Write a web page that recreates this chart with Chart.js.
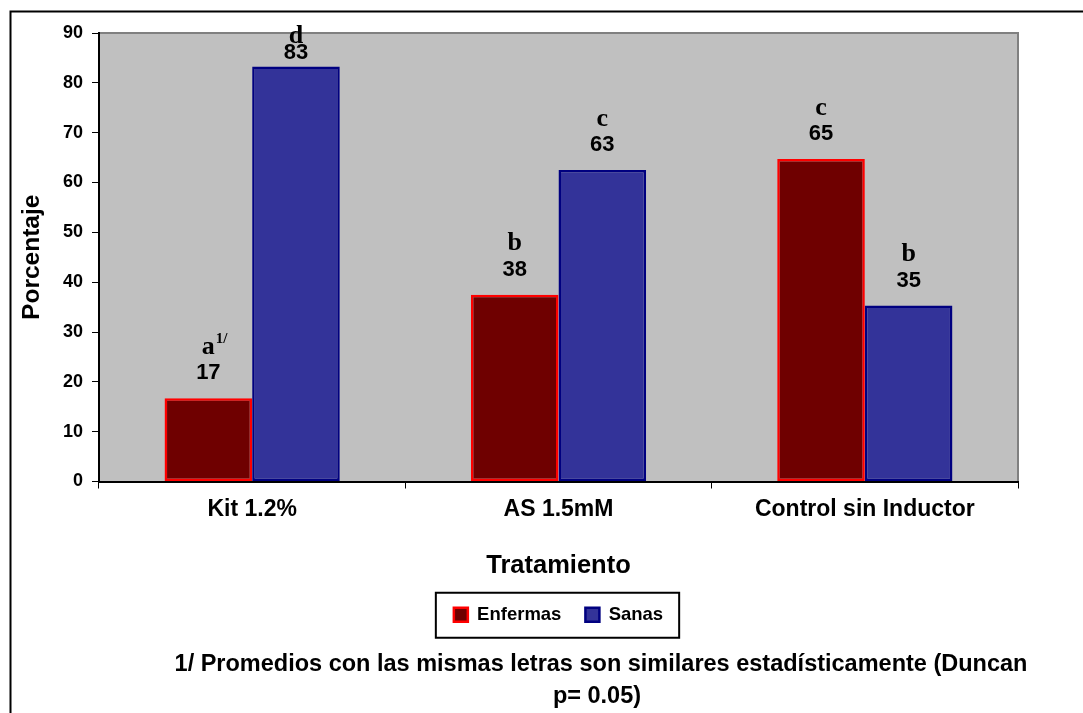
<!DOCTYPE html>
<html>
<head>
<meta charset="utf-8">
<script src="https://cdn.jsdelivr.net/npm/chart.js@4.4.0/dist/chart.umd.min.js"></script>
<style>
  body { margin: 0; background: #fff; }
  #wrap { width: 1083px; height: 713px; }
</style>
</head>
<body>
<div id="wrap"><canvas id="chart" width="1083" height="713"></canvas></div>
<script>
const categories = ["Kit 1.2%", "AS 1.5mM", "Control sin Inductor"];
const enfermas = [16.7, 37.5, 64.7];
const sanas = [83.3, 62.5, 35.3];
const enfermasLetters = ["a", "b", "c"];
const sanasLetters = ["d", "c", "b"];
const enfermasSup = ["1/", "", ""];
const sanasSup = ["", "", ""];
const yTicks = [0, 10, 20, 30, 40, 50, 60, 70, 80, 90];
const footnote = [
  "1/ Promedios con las mismas letras son similares estadísticamente (Duncan",
  "p= 0.05)"
];

const sansFont = "'Liberation Sans', Arial, sans-serif";
const serifFont = "'Liberation Serif', 'Times New Roman', serif";
Chart.defaults.font.family = sansFont;
Chart.defaults.color = "#000";

const decorPlugin = {
  id: "decor",
  beforeDraw(chart) {
    // gray plot area
    const { ctx, chartArea: a } = chart;
    ctx.save();
    ctx.fillStyle = "#c0c0c0";
    ctx.fillRect(a.left, a.top, a.right - a.left, a.bottom - a.top);
    ctx.strokeStyle = "#808080";
    ctx.lineWidth = 2;
    ctx.beginPath();
    ctx.moveTo(a.left, a.top);
    ctx.lineTo(a.right, a.top);
    ctx.lineTo(a.right, a.bottom);
    ctx.stroke();
    ctx.restore();
  },
  afterDatasetsDraw(chart) {
    const { ctx, chartArea: a } = chart;
    const letters = [enfermasLetters, sanasLetters];
    const sups = [enfermasSup, sanasSup];
    ctx.save();
    ctx.fillStyle = "#000";
    ctx.textBaseline = "middle";
    chart.data.datasets.forEach((ds, i) => {
      const meta = chart.getDatasetMeta(i);
      meta.data.forEach((bar, j) => {
        const numY = Math.max(bar.y - 25, a.top + 20);
        const letY = Math.max(numY - 26, a.top + 3);
        ctx.font = "bold 22px " + sansFont;
        ctx.textAlign = "center";
        ctx.fillText(String(Math.round(ds.data[j])), bar.x, numY);
        ctx.font = "bold 26px " + serifFont;
        ctx.fillText(letters[i][j], bar.x, letY);
        if (sups[i][j]) {
          const w = ctx.measureText(letters[i][j]).width;
          ctx.font = "bold 15px " + serifFont;
          ctx.textAlign = "left";
          ctx.fillText(sups[i][j], bar.x + w / 2 + 1, letY - 8);
        }
      });
    });
    ctx.restore();
  },
  afterDraw(chart) {
    const { ctx } = chart;
    ctx.save();
    // legend frame
    const hb = chart.legend.legendHitBoxes;
    if (hb && hb.length) {
      const last = hb[hb.length - 1];
      const left = hb[0].left - 18;
      const right = last.left + last.width + 16;
      const cy = hb[0].top + hb[0].height / 2;
      ctx.strokeStyle = "#000";
      ctx.lineWidth = 2;
      ctx.strokeRect(left, cy - 22, right - left, 45);
    }
    // footnote
    ctx.fillStyle = "#000";
    ctx.font = "bold 23.5px " + sansFont;
    ctx.textAlign = "center";
    ctx.textBaseline = "middle";
    ctx.fillText(footnote[0], 601, 665);
    ctx.fillText(footnote[1], 597, 697);
    // outer frame
    ctx.lineWidth = 2;
    ctx.strokeStyle = "#000";
    ctx.strokeRect(10.5, 11.5, 1200, 800);
    ctx.restore();
  }
};

new Chart(document.getElementById("chart"), {
  type: "bar",
  data: {
    labels: categories,
    datasets: [
      {
        label: "Enfermas",
        data: enfermas,
        backgroundColor: "#6f0000",
        borderColor: "#ff0000",
        borderWidth: 2.5,
        borderSkipped: false
      },
      {
        label: "Sanas",
        data: sanas,
        backgroundColor: "#333399",
        borderColor: "#000080",
        borderWidth: 2.5,
        borderSkipped: false
      }
    ]
  },
  options: {
    responsive: false,
    animation: false,
    layout: { padding: { left: 18, right: 65, top: 33, bottom: 79 } },
    datasets: { bar: { categoryPercentage: 0.572, barPercentage: 1 } },
    plugins: {
      tooltip: { enabled: false },
      legend: {
        position: "bottom",
        fullSize: false,
        labels: {
          boxWidth: 14,
          boxHeight: 14,
          padding: 24,
          color: "#000",
          font: { size: 18.5, weight: "bold" }
        }
      }
    },
    scales: {
      x: {
        grid: { drawOnChartArea: false, tickLength: 7, color: "#000", offset: true },
        border: { color: "#000", width: 2 },
        ticks: { color: "#000", padding: 7, font: { size: 23, weight: "bold" } },
        title: { display: true, text: "Tratamiento", color: "#000", padding: 0, font: { size: 25.5, weight: "bold" } },
        afterFit: s => { s.height = 100; }
      },
      y: {
        min: 0,
        max: 90,
        afterBuildTicks: s => { s.ticks = yTicks.map(v => ({ value: v })); },
        grid: { drawOnChartArea: false, tickLength: 7, color: "#000" },
        border: { color: "#000", width: 2 },
        ticks: { color: "#000", padding: 9, font: { size: 18, weight: "bold" } },
        title: { display: true, text: "Porcentaje", color: "#000", padding: 0, font: { size: 24.5, weight: "bold" } },
        afterFit: s => { s.width = 81; }
      }
    }
  },
  plugins: [decorPlugin]
});
</script>
</body>
</html>
